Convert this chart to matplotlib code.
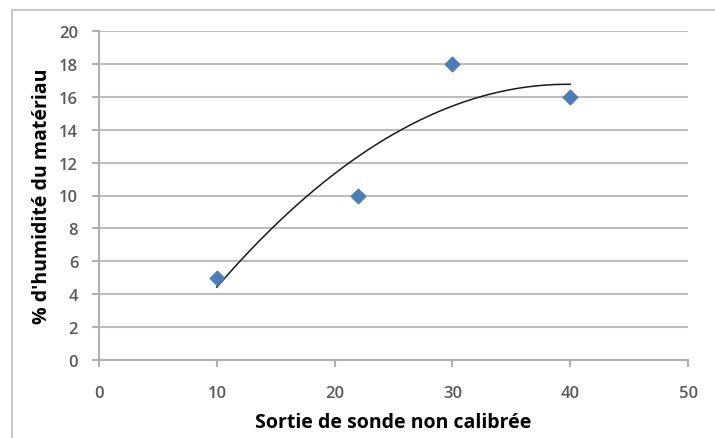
import matplotlib.pyplot as plt
import numpy as np
from matplotlib.patches import Rectangle

# données
sortie_sonde = [10, 22, 30, 40]
humidite = [5, 10, 18, 16]

x_ticks = [0, 10, 20, 30, 40, 50]
y_ticks = [0, 2, 4, 6, 8, 10, 12, 14, 16, 18, 20]

plt.rcParams['font.family'] = ['Open Sans', 'DejaVu Sans']

fig = plt.figure(figsize=(7.15, 4.39), dpi=100)
ax = fig.add_axes([99 / 715, 1 - 361 / 439, (688 - 99) / 715, (361 - 32) / 439])

# cadre extérieur type Excel
fig.patches.append(Rectangle((12 / 715, -0.1), 1.1, 1 - 11 / 439 + 0.1,
                             transform=fig.transFigure, fill=False,
                             edgecolor='#c8c8c8', linewidth=1.5))

# courbe de tendance polynomiale (ordre 2)
coef = np.polyfit(sortie_sonde, humidite, 2)
xx = np.linspace(min(sortie_sonde), max(sortie_sonde), 200)
ax.plot(xx, np.polyval(coef, xx), color='#1a1a1a', linewidth=1.1, zorder=3)

ax.scatter(sortie_sonde, humidite, marker='D', s=60, color='#4a7ebb',
           edgecolors='#3a6aa5', linewidths=0.5, zorder=4)

ax.set_xlim(0, 50)
ax.set_ylim(0, 20)
ax.set_xticks(x_ticks)
ax.set_yticks(y_ticks)
ax.grid(axis='y', color='#bdbdbd', linewidth=1.5)
ax.set_axisbelow(True)

for s in ['top', 'right']:
    ax.spines[s].set_visible(False)
for s in ['left', 'bottom']:
    ax.spines[s].set_color('#b0b0b0')
    ax.spines[s].set_linewidth(1.5)

ax.tick_params(colors='#b0b0b0', width=1.5, length=5, labelsize=12,
               labelcolor='#595959')
ax.tick_params(axis='x', pad=13)
ax.tick_params(axis='y', pad=10)
for lbl in ax.get_xticklabels() + ax.get_yticklabels():
    lbl.set_fontweight('semibold')

ax.set_xlabel('Sortie de sonde non calibrée', fontsize=14, fontweight='bold',
              labelpad=8)
ax.set_ylabel("% d'humidité du matériau", fontsize=14, fontweight='bold',
              labelpad=5)

fig.savefig('out.png', dpi=100)
